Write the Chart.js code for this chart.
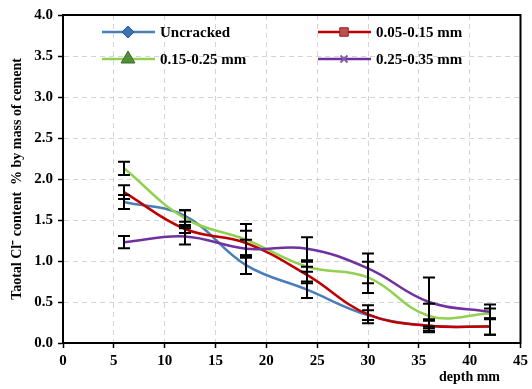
<!DOCTYPE html>
<html lang="en">
<head>
    <meta charset="UTF-8">
    <title>Chloride profile</title>
    <script src="https://cdn.jsdelivr.net/npm/chart.js"></script>
    <style>
        body { margin: 0; background: #fff; }
    </style>
</head>
<body>
    <div style="width: 532px; height: 389px;">
        <canvas id="grafico"></canvas>
    </div>

    <script>
        // depth (mm) and chloride content (% by mass of cement)
        const depths = [6, 12, 18, 24, 30, 36, 42]

        const uncracked    = [1.72, 1.55, 0.95, 0.65, 0.34, 0.21, 0.20]
        const uncrackedErr = [0.085, 0.07, 0.11, 0.10, 0.06, 0.08, 0.10]

        const crack1    = [1.84, 1.39, 1.22, 0.83, 0.35, 0.21, 0.20]
        const crack1Err = [0.085, 0.05, 0.15, 0.10, 0.11, 0.06, 0.10]

        const crack2    = [2.13, 1.52, 1.26, 0.93, 0.80, 0.33, 0.36]
        const crack2Err = [0.08, 0.10, 0.19, 0.06, 0.19, 0.15, 0.06]

        const crack3    = [1.23, 1.30, 1.15, 1.15, 0.91, 0.50, 0.38]
        const crack3Err = [0.075, 0.10, 0.11, 0.14, 0.18, 0.30, 0.09]

        const seriesNames = ['Uncracked', '0.05-0.15 mm', '0.15-0.25 mm', '0.25-0.35 mm']
        const yTicks = [0, 0.5, 1, 1.5, 2, 2.5, 3, 3.5, 4]

        const fonte = 'Liberation Serif, Times New Roman, serif'

        const pontos = (vals) => depths.map((d, i) => ({ x: d, y: vals[i] }))

        // legend marker look, one per series
        const marcadores = [
            { style: 'rectRot', radius: 6, fill: '#3f72b5', stroke: '#2f5a93', width: 1 },
            { style: 'rect', radius: 6, fill: '#c0504d', stroke: '#8c2323', width: 1 },
            { style: 'triangle', radius: 8, fill: '#4f8f3a', stroke: '#3b6e2b', width: 1 },
            { style: 'crossRot', radius: 5, fill: '#7f5fa8', stroke: '#7f5fa8', width: 2 }
        ]

        const erroBarras = {
            id: 'erroBarras',
            afterDatasetsDraw(chart) {
                const ctx = chart.ctx
                const xs = chart.scales.x
                const ys = chart.scales.y
                ctx.save()
                ctx.strokeStyle = '#000'
                ctx.lineWidth = 2
                chart.data.datasets.forEach(ds => {
                    ds.data.forEach((p, i) => {
                        const e = ds.erros[i]
                        const px = xs.getPixelForValue(p.x)
                        const top = ys.getPixelForValue(p.y + e)
                        const bot = ys.getPixelForValue(p.y - e)
                        ctx.beginPath()
                        ctx.moveTo(px, top); ctx.lineTo(px, bot)
                        ctx.moveTo(px - 6, top); ctx.lineTo(px + 6, top)
                        ctx.moveTo(px - 6, bot); ctx.lineTo(px + 6, bot)
                        ctx.stroke()
                    })
                })
                ctx.restore()
            }
        }

        const moldura = {
            id: 'moldura',
            afterDraw(chart) {
                const ctx = chart.ctx
                const a = chart.chartArea
                ctx.save()
                ctx.strokeStyle = '#000'
                ctx.lineWidth = 2
                ctx.strokeRect(a.left, a.top, a.right - a.left, a.bottom - a.top)

                // legend inside the plot, two columns
                ctx.font = 'bold 15px ' + fonte
                ctx.textBaseline = 'middle'
                ctx.fillStyle = '#000'
                chart.data.datasets.forEach((ds, i) => {
                    const col = i % 2
                    const row = Math.floor(i / 2)
                    const x0 = a.left + 39 + col * 216
                    const y0 = a.top + 17 + row * 27
                    ctx.strokeStyle = ds.borderColor
                    ctx.lineWidth = 2.5
                    ctx.beginPath()
                    ctx.moveTo(x0, y0); ctx.lineTo(x0 + 53, y0)
                    ctx.stroke()
                    const m = marcadores[i]
                    ctx.fillStyle = m.fill
                    ctx.strokeStyle = m.stroke
                    ctx.lineWidth = m.width
                    Chart.helpers.drawPoint(ctx, { pointStyle: m.style, radius: m.radius, rotation: 0, borderWidth: m.width }, x0 + 26, y0)
                    ctx.fillStyle = '#000'
                    ctx.fillText(ds.label, x0 + 58, y0 + 1)
                })

                // x axis title
                ctx.font = 'bold 14px ' + fonte
                ctx.textAlign = 'right'
                ctx.fillText('depth mm', 500, 377)
                ctx.restore()
            }
        }

        const ctx = document.getElementById('grafico')

        const grafico = new Chart(ctx, {
            type: 'line',
            data: {
                datasets: [
                    { label: seriesNames[0], data: pontos(uncracked), erros: uncrackedErr, borderColor: '#4a7ebb', order: 4 },
                    { label: seriesNames[1], data: pontos(crack1), erros: crack1Err, borderColor: '#c00000', order: 3 },
                    { label: seriesNames[2], data: pontos(crack2), erros: crack2Err, borderColor: '#92d050', order: 2 },
                    { label: seriesNames[3], data: pontos(crack3), erros: crack3Err, borderColor: '#7030a0', order: 1 }
                ].map(ds => Object.assign(ds, { borderWidth: 2.5, pointRadius: 0, tension: 0.4, fill: false }))
            },
            options: {
                responsive: true,
                maintainAspectRatio: false,
                animation: false,
                layout: { padding: { left: 0, right: 9, top: 15, bottom: 0 } },
                plugins: {
                    legend: { display: false },
                    tooltip: { enabled: false }
                },
                scales: {
                    x: {
                        type: 'linear',
                        min: 0,
                        max: 45,
                        ticks: {
                            stepSize: 5,
                            color: '#000',
                            padding: 4,
                            maxRotation: 0,
                            font: { family: fonte, size: 15, weight: 'bold' }
                        },
                        grid: { color: '#d4d4d4', lineWidth: 1, tickLength: 5, tickColor: '#000', tickWidth: 1.5, tickBorderDash: [] },
                        border: { color: '#000', width: 2, dash: [5, 4] },
                        afterFit: s => { s.height = 46 }
                    },
                    y: {
                        min: 0,
                        max: 4,
                        afterBuildTicks: s => { s.ticks = yTicks.map(v => ({ value: v })) },
                        ticks: {
                            color: '#000',
                            padding: 5,
                            callback: v => v.toFixed(1),
                            font: { family: fonte, size: 15, weight: 'bold' }
                        },
                        grid: { color: '#d4d4d4', lineWidth: 1, tickLength: 5, tickColor: '#000', tickWidth: 1.5, tickBorderDash: [] },
                        border: { color: '#000', width: 2, dash: [5, 4] },
                        title: {
                            display: true,
                            text: 'Taotal Cl⁻ content  % by mass of cement',
                            color: '#000',
                            padding: { top: 9, bottom: 0 },
                            font: { family: fonte, size: 14, weight: 'bold' }
                        },
                        afterFit: s => { s.width = 63 }
                    }
                }
            },
            plugins: [erroBarras, moldura]
        })
    </script>
</body>
</html>
